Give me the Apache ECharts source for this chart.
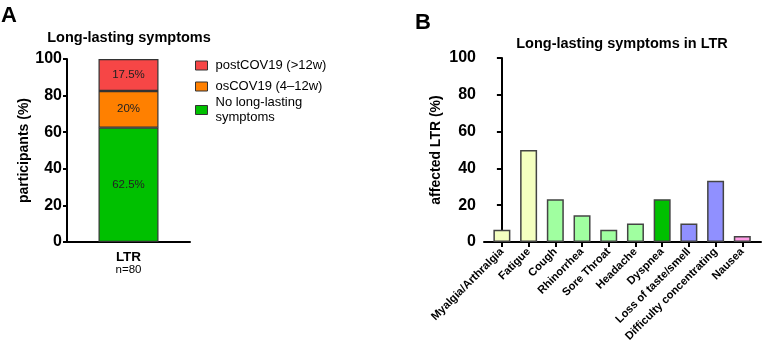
<!DOCTYPE html>
<html>
<head>
<meta charset="utf-8">
<script src="https://cdn.jsdelivr.net/npm/echarts@6/dist/echarts.min.js"></script>
<style>
  html, body { margin: 0; padding: 0; background: #fff; }
  #chart { width: 766px; height: 351px; }
</style>
</head>
<body>
<div id="chart"></div>
<script>
// panel A data
var groupNames = ['LTR'];
var groupN = ['n=80'];
var stackNames = ['No long-lasting\nsymptoms', 'osCOV19 (4\u201312w)', 'postCOV19 (>12w)'];
var stackValues = [62.5, 20, 17.5];
var stackLabels = ['62.5%', '20%', '17.5%'];
var stackColors = ['#00c000', '#ff8000', '#f64646'];

// panel B data
var symptoms = ['Myalgia/Arthralgia', 'Fatigue', 'Cough', 'Rhinorrhea', 'Sore Throat',
  'Headache', 'Dyspnea', 'Loss of taste/smell', 'Difficulty concentrating', 'Nausea'];
var symptomValues = [6.7, 50, 23.3, 14.5, 6.7, 10, 23.3, 10, 33.3, 3.3];
var symptomColors = ['#f4ffc0', '#f4ffc0', '#a0ffa0', '#a0ffa0', '#a0ffa0',
  '#a0ffa0', '#00c000', '#9090ff', '#9090ff', '#ff9ce6'];

var FONT = 'Liberation Sans, Arial, sans-serif';
var myChart = echarts.init(document.getElementById('chart'));

var axisLineStyle = { color: '#000', width: 2 };

// legend (one per item so rows can be placed like the original)
var legendTops = [58, 79, 95];
var legends = [2, 1, 0].map(function (idx, i) {
  return {
    data: [stackNames[idx]],
    left: 195,
    top: legendTops[i],
    padding: 0,
    orient: 'vertical',
    icon: 'rect',
    itemWidth: 12,
    itemHeight: 9,
    itemGap: 4,
    selectedMode: false,
    itemStyle: { borderColor: '#333', borderWidth: 1 },
    textStyle: { fontFamily: FONT, fontSize: 13, color: '#000', lineHeight: 15, padding: [0, 0, 0, 3] }
  };
});

var stackSeries = stackNames.map(function (name, i) {
  return {
    name: name,
    type: 'bar',
    stack: 'all',
    xAxisIndex: 0,
    yAxisIndex: 0,
    barWidth: 60,
    data: [stackValues[i]],
    itemStyle: { color: stackColors[i], borderColor: '#333', borderWidth: 1.2 },
    label: {
      show: true,
      position: 'inside',
      formatter: stackLabels[i],
      fontFamily: FONT,
      fontSize: 11.5,
      color: '#222'
    }
  };
});

var symptomData = symptomValues.map(function (v, i) {
  return { value: [i, v], itemStyle: { color: symptomColors[i] } };
});

var option = {
  animation: false,
  textStyle: { fontFamily: FONT },
  title: [
    { text: 'A', left: 1, top: 5, padding: 0, textStyle: { fontFamily: FONT, fontSize: 22, fontWeight: 'bold', color: '#000' } },
    { text: 'B', left: 415, top: 12, padding: 0, textStyle: { fontFamily: FONT, fontSize: 22, fontWeight: 'bold', color: '#000' } },
    { text: 'Long-lasting symptoms', left: 129, top: 30, padding: 0, textAlign: 'center', textStyle: { fontFamily: FONT, fontSize: 14.5, fontWeight: 'bold', color: '#000' } },
    { text: 'Long-lasting symptoms in LTR', left: 622, top: 36, padding: 0, textAlign: 'center', textStyle: { fontFamily: FONT, fontSize: 14.5, fontWeight: 'bold', color: '#000' } }
  ],
  legend: legends,
  grid: [
    { left: 67, top: 59, width: 123, bottom: 109, containLabel: false },
    { left: 484, top: 58, right: 5, bottom: 109, containLabel: false }
  ],
  xAxis: [
    {
      type: 'category',
      gridIndex: 0,
      data: groupNames,
      axisLine: { lineStyle: axisLineStyle },
      axisTick: { length: 5, alignWithLabel: true, lineStyle: { width: 2, color: '#000' } },
      axisLabel: {
        margin: 8,
        formatter: function (v, i) { return '{b|' + v + '}\n{n|' + groupN[i] + '}'; },
        rich: {
          b: { fontFamily: FONT, fontSize: 13.5, fontWeight: 'bold', color: '#000', lineHeight: 14 },
          n: { fontFamily: FONT, fontSize: 11.5, color: '#000', lineHeight: 12 }
        }
      }
    },
    {
      type: 'value',
      gridIndex: 1,
      min: -0.67,
      max: 9.7,
      splitLine: { show: false },
      axisLine: { lineStyle: axisLineStyle },
      axisTick: { show: true, length: 5, customValues: symptoms.map(function (s, i) { return i; }), lineStyle: { width: 2, color: '#000' } },
      axisLabel: {
        customValues: symptoms.map(function (s, i) { return i; }),
        formatter: function (v) { return symptoms[Math.round(v)]; },
        rotate: 45,
        margin: 8,
        fontFamily: FONT,
        fontSize: 11.2,
        fontWeight: 'bold',
        color: '#000'
      }
    }
  ],
  yAxis: [
    {
      type: 'value',
      gridIndex: 0,
      min: 0,
      max: 100,
      interval: 20,
      name: 'participants (%)',
      nameLocation: 'middle',
      nameGap: 27,
      nameTextStyle: { fontFamily: FONT, fontSize: 14, fontWeight: 'bold', color: '#000' },
      splitLine: { show: false },
      axisLine: { show: true, lineStyle: axisLineStyle },
      axisTick: { show: true, length: 4, lineStyle: { width: 2, color: '#000' } },
      axisLabel: { margin: 5, fontFamily: FONT, fontSize: 16, fontWeight: 'bold', color: '#000' }
    },
    {
      type: 'value',
      gridIndex: 1,
      min: 0,
      max: 100,
      interval: 20,
      name: 'affected LTR (%)',
      nameLocation: 'middle',
      nameGap: 41,
      nameTextStyle: { fontFamily: FONT, fontSize: 14, fontWeight: 'bold', color: '#000' },
      splitLine: { show: false },
      axisLine: { show: true, lineStyle: axisLineStyle },
      axisTick: { show: true, length: 5, lineStyle: { width: 2, color: '#000' } },
      axisLabel: { margin: 8, fontFamily: FONT, fontSize: 16, fontWeight: 'bold', color: '#000' }
    }
  ],
  series: stackSeries.concat([
    {
      name: 'symptoms',
      type: 'bar',
      xAxisIndex: 1,
      yAxisIndex: 1,
      barWidth: 17,
      data: symptomData,
      itemStyle: { borderColor: '#444', borderWidth: 1.5 }
    }
  ])
};

myChart.setOption(option);
</script>
</body>
</html>
